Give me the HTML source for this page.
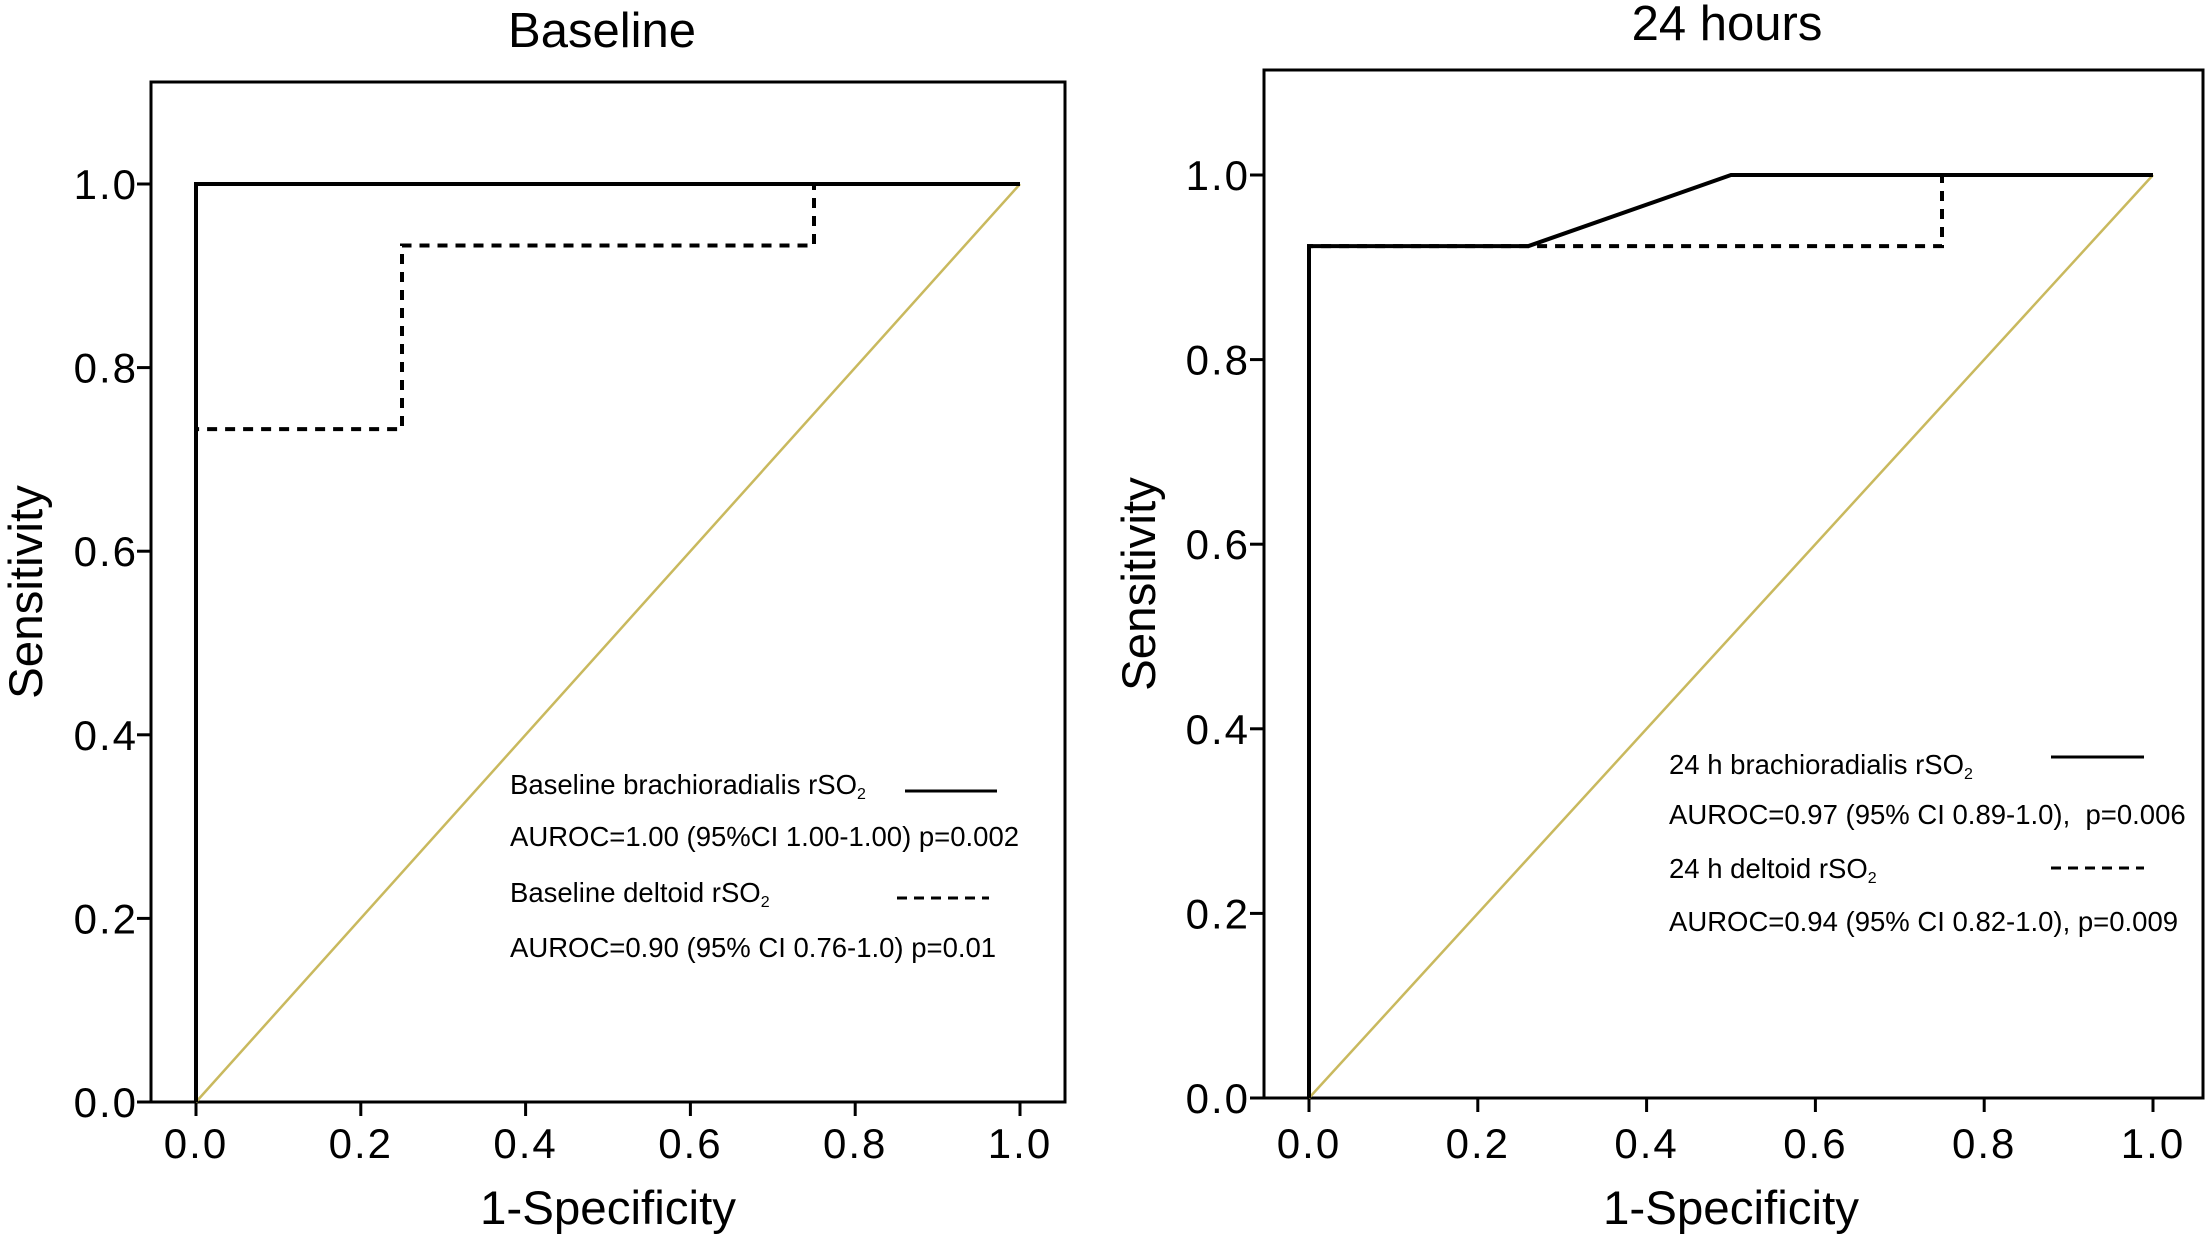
<!DOCTYPE html>
<html><head><meta charset="utf-8">
<style>
html,body{margin:0;padding:0;background:#fff;}
svg{display:block;font-family:"Liberation Sans",Arial,sans-serif;}
text{white-space:pre;}
</style></head>
<body>
<svg id="fig" width="2207" height="1236" viewBox="0 0 2207 1236" xmlns="http://www.w3.org/2000/svg"></svg>
<script>
// ---- data ----
const xTicks = [0.0, 0.2, 0.4, 0.6, 0.8, 1.0];
const yTicks = [0.0, 0.2, 0.4, 0.6, 0.8, 1.0];
const tickLabels = ["0.0","0.2","0.4","0.6","0.8","1.0"];
const baseBrachioX = [0, 0, 1];
const baseBrachioY = [0, 1, 1];
const baseDeltoidX = [0, 0, 0.25, 0.25, 0.75, 0.75, 1];
const baseDeltoidY = [0, 0.733, 0.733, 0.933, 0.933, 1, 1];
const h24BrachioX = [0, 0, 0.26, 0.5, 1];
const h24BrachioY = [0, 0.923, 0.923, 1, 1];
const h24DeltoidX = [0, 0, 0.75, 0.75, 1];
const h24DeltoidY = [0, 0.923, 0.923, 1, 1];
const refX = [0, 1];
const refY = [0, 1];

const NS = "http://www.w3.org/2000/svg";
const svg = document.getElementById("fig");
function mk(tag, attrs, parent){
  const e = document.createElementNS(NS, tag);
  for (const k in attrs) e.setAttribute(k, attrs[k]);
  (parent||svg).appendChild(e);
  return e;
}

const panels = [
  {name:"baseline", title:"Baseline", titleX:602, titleY:47,
   box:[151,82,1065,1102], x0:196, x1:1020, y0:1102, y1:184,
   tickRight:138, sensX:42,
   series:[[baseBrachioX,baseBrachioY,false,"baseline-brachioradialis-curve"],[baseDeltoidX,baseDeltoidY,true,"baseline-deltoid-curve"]],
   legX:510, legY:[794,846,902,957],
   legText:[["Baseline brachioradialis rSO","2"],["AUROC=1.00 (95%CI 1.00-1.00) p=0.002",""],["Baseline deltoid rSO","2"],["AUROC=0.90 (95% CI 0.76-1.0) p=0.01",""]],
   solidLine:[905,997,791], dashLine:[897,989,898]},
  {name:"24-hours", title:"24 hours", titleX:1727, titleY:40,
   box:[1264,70,2203,1098], x0:1309, x1:2153, y0:1098, y1:175,
   tickRight:1250, sensX:1155,
   series:[[h24BrachioX,h24BrachioY,false,"24h-brachioradialis-curve"],[h24DeltoidX,h24DeltoidY,true,"24h-deltoid-curve"]],
   legX:1669, legY:[774,824,878,931],
   legText:[["24 h brachioradialis rSO","2"],["AUROC=0.97 (95% CI 0.89-1.0),  p=0.006",""],["24 h deltoid rSO","2"],["AUROC=0.94 (95% CI 0.82-1.0), p=0.009",""]],
   solidLine:[2051,2144,757], dashLine:[2051,2144,868]}
];

panels.forEach(p=>{
  const g = mk("g",{});
  
  
  const sx = v => p.x0 + v*(p.x1-p.x0);
  const sy = v => p.y0 - v*(p.y0-p.y1);
  const t = mk("text",{x:p.titleX,y:p.titleY,"text-anchor":"middle","font-size":49,fill:"#000"},g);
  t.textContent = p.title;
  
  
  const [bl,bt,br,bb] = p.box;
  const box = mk("rect",{x:bl,y:bt,width:br-bl,height:bb-bt,fill:"none",stroke:"#000","stroke-width":3},g);
  
  
  mk("line",{x1:bl-14,y1:bb,x2:br,y2:bb,stroke:"#000","stroke-width":3},g);
  yTicks.forEach((v,i)=>{
    const y = sy(v);
    mk("line",{x1:bl-14,y1:y,x2:bl,y2:y,stroke:"#000","stroke-width":3},g);
    const lab = mk("text",{x:p.tickRight,y:y+15,"text-anchor":"end","font-size":42,"letter-spacing":2,fill:"#000"},g);
    lab.textContent = tickLabels[i];
    
    
  });
  xTicks.forEach((v,i)=>{
    const x = sx(v);
    mk("line",{x1:x,y1:bb,x2:x,y2:bb+14,stroke:"#000","stroke-width":3},g);
    const lab = mk("text",{x:x,y:1158,"text-anchor":"middle","font-size":42,"letter-spacing":2,fill:"#000"},g);
    lab.textContent = tickLabels[i];
    
    
  });
  const xt = mk("text",{x:(p.x0+p.x1)/2,y:1224,"text-anchor":"middle","font-size":47.5,fill:"#000"},g);
  xt.textContent = "1-Specificity";
  
  
  const cy = (bt+bb)/2;
  const yt = mk("text",{x:p.sensX,y:cy,"text-anchor":"middle","font-size":47.5,fill:"#000",transform:`rotate(-90 ${p.sensX} ${cy})`},g);
  yt.textContent = "Sensitivity";
  
  
  const ref = mk("polyline",{points:refX.map((v,i)=>sx(v)+","+sy(refY[i])).join(" "),fill:"none",stroke:"#c9b95e","stroke-width":2.5},g);
  
  
  [p.series[1],p.series[0]].forEach(s=>{
    const pl = mk("polyline",{points:s[0].map((v,i)=>sx(v)+","+sy(s[1][i])).join(" "),fill:"none",stroke:"#000","stroke-width":4,"stroke-linejoin":"miter"},g);
    if (s[2]) pl.setAttribute("stroke-dasharray","10 8");
    
    
  });
  p.legText.forEach((lt,i)=>{
    const tx = mk("text",{x:p.legX,y:p.legY[i],"font-size":27.5,fill:"#000"},g);
    tx.textContent = lt[0];
    if (lt[1]){
      const sub = mk("tspan",{"font-size":16,dy:5},tx);
      sub.textContent = lt[1];
    }
    
    
  });
  const ls = mk("line",{x1:p.solidLine[0],y1:p.solidLine[2],x2:p.solidLine[1],y2:p.solidLine[2],stroke:"#000","stroke-width":3},g);
  
  
  const ld = mk("line",{x1:p.dashLine[0],y1:p.dashLine[2],x2:p.dashLine[1],y2:p.dashLine[2],stroke:"#000","stroke-width":3,"stroke-dasharray":"10 7"},g);
  
  
});
</script>
</body></html>
